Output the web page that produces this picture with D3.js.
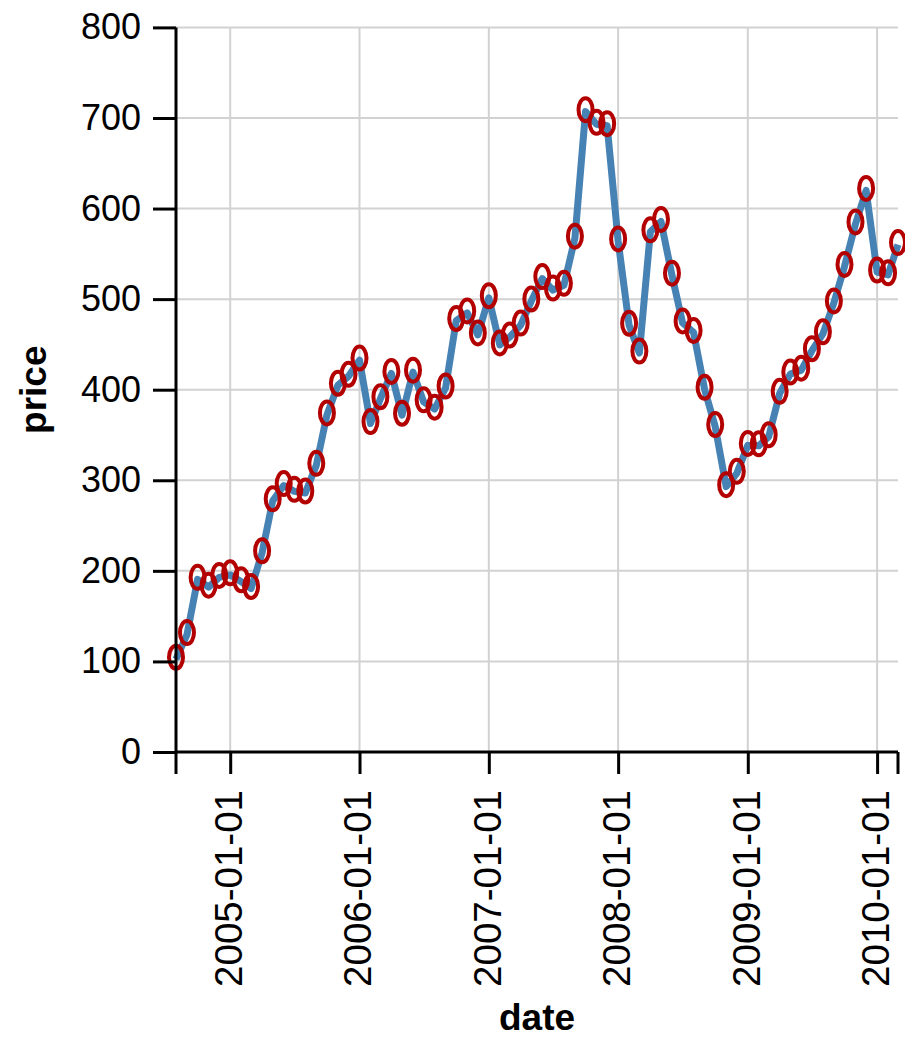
<!DOCTYPE html>
<html>
<head>
<meta charset="utf-8">
<script src="https://cdn.jsdelivr.net/npm/d3@7"></script>
<style>
  html, body { margin: 0; padding: 0; background: #fff; }
  svg { display: block; }
  text { font-family: "Liberation Sans", Arial, Helvetica, sans-serif; }
</style>
</head>
<body>
<svg id="chart" width="905" height="1044"></svg>
<script>
// GOOG monthly closing prices
const dates = [
  "2004-08-01","2004-09-01","2004-10-01","2004-11-01","2004-12-01",
  "2005-01-01","2005-02-01","2005-03-01","2005-04-01","2005-05-01","2005-06-01",
  "2005-07-01","2005-08-01","2005-09-01","2005-10-01","2005-11-01","2005-12-01",
  "2006-01-01","2006-02-01","2006-03-01","2006-04-01","2006-05-01","2006-06-01",
  "2006-07-01","2006-08-01","2006-09-01","2006-10-01","2006-11-01","2006-12-01",
  "2007-01-01","2007-02-01","2007-03-01","2007-04-01","2007-05-01","2007-06-01",
  "2007-07-01","2007-08-01","2007-09-01","2007-10-01","2007-11-01","2007-12-01",
  "2008-01-01","2008-02-01","2008-03-01","2008-04-01","2008-05-01","2008-06-01",
  "2008-07-01","2008-08-01","2008-09-01","2008-10-01","2008-11-01","2008-12-01",
  "2009-01-01","2009-02-01","2009-03-01","2009-04-01","2009-05-01","2009-06-01",
  "2009-07-01","2009-08-01","2009-09-01","2009-10-01","2009-11-01","2009-12-01",
  "2010-01-01","2010-02-01","2010-03-01"
];
const prices = [
  102.37, 129.6, 190.64, 181.98, 192.79,
  195.62, 187.99, 180.51, 220, 277.27, 294.15,
  287.76, 286, 316.46, 372.14, 404.91, 414.86,
  432.66, 362.62, 390, 417.94, 371.82, 419.33,
  386.6, 378.53, 401.9, 476.39, 484.81, 460.48,
  501.5, 449.45, 458.16, 471.38, 497.91, 522.7,
  510, 515.25, 567.27, 707, 693, 691.48,
  564.3, 471.18, 440.47, 574.29, 585.8, 526.42,
  473.75, 463.29, 400.52, 359.36, 292.96, 307.65,
  338.53, 337.99, 348.06, 395.97, 417.23, 421.59,
  443.05, 461.67, 495.85, 536.12, 583, 619.98,
  529.94, 526.8, 560.19
];
const yTicks = [0, 100, 200, 300, 400, 500, 600, 700, 800];
const xTicks = ["2005-01-01","2006-01-01","2007-01-01","2008-01-01","2009-01-01","2010-01-01"];
const xTitle = "date";
const yTitle = "price";

const parse = d3.utcParse("%Y-%m-%d");
const fmt = d3.utcFormat("%Y-%m-%d");
const data = dates.map((d, i) => ({ date: parse(d), price: prices[i] }));

const svg = d3.select("#chart");
const plotLeft = 176, plotRight = 898, plotTop = 27.4, plotBottom = 752;

const x = d3.scaleUtc()
  .domain(d3.extent(data, d => d.date))
  .range([plotLeft, plotRight]);
const y = d3.scaleLinear()
  .domain([0, 800])
  .range([plotBottom, plotTop]);

const xTickDates = xTicks.map(parse);

// grid
const grid = svg.append("g").attr("stroke", "#d2d2d2").attr("stroke-width", 2);
grid.selectAll(".gy").data(yTicks).join("line")
  .attr("x1", plotLeft).attr("x2", plotRight)
  .attr("y1", d => y(d)).attr("y2", d => y(d));
grid.selectAll(".gx").data(xTickDates).join("line")
  .attr("x1", d => x(d)).attr("x2", d => x(d))
  .attr("y1", plotTop).attr("y2", plotBottom);

// price line
svg.append("path")
  .datum(data)
  .attr("fill", "none")
  .attr("stroke", "#4682b4")
  .attr("stroke-width", 7)
  .attr("stroke-linejoin", "round")
  .attr("d", d3.line().x(d => x(d.date)).y(d => y(d.price)));

// point markers
svg.append("g").selectAll("ellipse").data(data).join("ellipse")
  .attr("cx", d => x(d.date))
  .attr("cy", d => y(d.price) - 2)
  .attr("rx", 7)
  .attr("ry", 11.5)
  .attr("fill", "none")
  .attr("stroke", "#b30000")
  .attr("stroke-width", 4);

// axes
const yAxis = d3.axisLeft(y).tickValues(yTicks).tickSize(23).tickSizeOuter(0).tickPadding(12);
const gy = svg.append("g").attr("transform", `translate(${plotLeft},0)`).call(yAxis);
gy.select(".domain").attr("stroke", "#000").attr("stroke-width", 3)
  .attr("d", `M0,${plotTop}V${plotBottom}`);
gy.selectAll(".tick line").attr("stroke", "#000").attr("stroke-width", 3);
gy.selectAll(".tick text").attr("font-size", 36).attr("fill", "#000")
  .attr("font-family", "Liberation Sans, Arial, sans-serif");

const xAxis = d3.axisBottom(x).tickValues(xTickDates).tickFormat(fmt).tickSize(22).tickSizeOuter(0);
const gx = svg.append("g").attr("transform", `translate(0,${plotBottom})`).call(xAxis);
gx.select(".domain").attr("stroke", "#000").attr("stroke-width", 3)
  .attr("d", `M${plotLeft},0H${plotRight}`);
gx.selectAll(".tick line").attr("stroke", "#000").attr("stroke-width", 3);
gx.selectAll(".tick text")
  .attr("font-size", 38.5).attr("fill", "#000")
  .attr("font-family", "Liberation Sans, Arial, sans-serif")
  .attr("text-anchor", "end")
  .attr("transform", "rotate(-90)")
  .attr("x", -38).attr("y", -2).attr("dy", "0.35em");
// end ticks at both ends of the time axis
[plotLeft, plotRight].forEach(px => {
  gx.append("line").attr("x1", px).attr("x2", px).attr("y1", 0).attr("y2", 22)
    .attr("stroke", "#000").attr("stroke-width", 3);
});

// titles
svg.append("text")
  .attr("x", (plotLeft + plotRight) / 2).attr("y", 1030)
  .attr("text-anchor", "middle")
  .attr("font-size", 37).attr("font-weight", "bold")
  .text(xTitle);
svg.append("text")
  .attr("transform", `translate(46,${(plotTop + plotBottom) / 2}) rotate(-90)`)
  .attr("text-anchor", "middle")
  .attr("font-size", 37).attr("font-weight", "bold")
  .text(yTitle);
</script>
</body>
</html>
